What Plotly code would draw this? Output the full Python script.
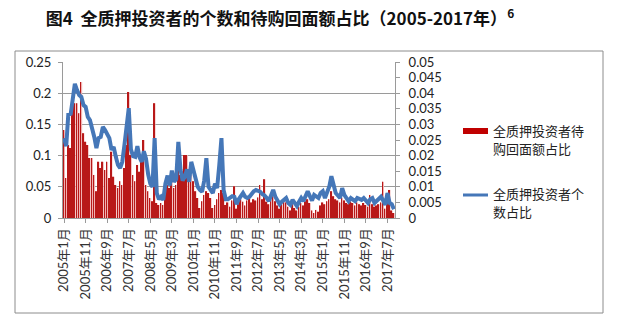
import plotly.graph_objects as go

# ---- data ----
start_year, start_month, n_months = 2005, 1, 154
months = []
y, m = start_year, start_month
for _ in range(n_months):
    months.append(f"{y}年{m}月")
    m += 1
    if m > 12:
        m = 1
        y += 1

bar_name = "全质押投资者待购回面额占比"
line_name = "全质押投资者个数占比"

# 待购回面额占比 (left axis)
bar_values = [
    0.141, 0.064, 0.117, 0.112, 0.173, 0.184, 0.184, 0.168, 0.218, 0.136,
    0.122, 0.117, 0.096, 0.096, 0.069, 0.043, 0.090, 0.080, 0.090, 0.077,
    0.090, 0.064, 0.106, 0.066, 0.053, 0.048, 0.059, 0.053, 0.080, 0.117,
    0.202, 0.101, 0.069, 0.059, 0.085, 0.074, 0.090, 0.125, 0.053, 0.043,
    0.032, 0.027, 0.184, 0.024, 0.021, 0.024, 0.021, 0.048, 0.053, 0.048,
    0.059, 0.048, 0.053, 0.090, 0.069, 0.064, 0.101, 0.101, 0.064, 0.069,
    0.059, 0.043, 0.032, 0.016, 0.027, 0.037, 0.043, 0.040, 0.032, 0.016,
    0.021, 0.030, 0.040, 0.045, 0.040, 0.021, 0.025, 0.018, 0.028, 0.051,
    0.015, 0.022, 0.030, 0.026, 0.020, 0.028, 0.032, 0.025, 0.030, 0.028,
    0.033, 0.053, 0.030, 0.062, 0.026, 0.022, 0.030, 0.035, 0.027, 0.020,
    0.015, 0.022, 0.028, 0.025, 0.018, 0.012, 0.022, 0.016, 0.012, 0.018,
    0.024, 0.020, 0.027, 0.030, 0.024, 0.012, 0.008, 0.013, 0.010, 0.020,
    0.025, 0.022, 0.027, 0.030, 0.043, 0.035, 0.030, 0.028, 0.025, 0.032,
    0.028, 0.024, 0.022, 0.026, 0.024, 0.020, 0.025, 0.022, 0.020, 0.024,
    0.021, 0.018, 0.037, 0.022, 0.018, 0.020, 0.022, 0.025, 0.058, 0.015,
    0.030, 0.045, 0.012, 0.008,
]

# 个数占比 (right axis)
line_values = [
    0.0256, 0.0230, 0.0336, 0.0330, 0.0380, 0.0430, 0.0410, 0.0394, 0.0388, 0.0362,
    0.0356, 0.0324, 0.0314, 0.0292, 0.0260, 0.0224, 0.0256, 0.0260, 0.0292, 0.0282,
    0.0266, 0.0256, 0.0218, 0.0228, 0.0196, 0.0170, 0.0160, 0.0180, 0.0234, 0.0288,
    0.0352, 0.0220, 0.0198, 0.0196, 0.0230, 0.0194, 0.0180, 0.0214, 0.0190, 0.0140,
    0.0110, 0.0100, 0.0256, 0.0080, 0.0060, 0.0068, 0.0058, 0.0110, 0.0136, 0.0104,
    0.0152, 0.0116, 0.0124, 0.0244, 0.0156, 0.0120, 0.0132, 0.0156, 0.0116, 0.0180,
    0.0150, 0.0120, 0.0100, 0.0090, 0.0084, 0.0120, 0.0192, 0.0100, 0.0090, 0.0080,
    0.0110, 0.0096, 0.0170, 0.0256, 0.0090, 0.0060, 0.0060, 0.0066, 0.0070, 0.0068,
    0.0044, 0.0060, 0.0072, 0.0080, 0.0068, 0.0064, 0.0068, 0.0080, 0.0086, 0.0090,
    0.0088, 0.0084, 0.0076, 0.0072, 0.0064, 0.0054, 0.0072, 0.0090, 0.0068, 0.0054,
    0.0044, 0.0052, 0.0060, 0.0064, 0.0048, 0.0042, 0.0058, 0.0048, 0.0038, 0.0052,
    0.0064, 0.0054, 0.0070, 0.0086, 0.0070, 0.0056, 0.0074, 0.0068, 0.0064, 0.0080,
    0.0086, 0.0064, 0.0080, 0.0100, 0.0134, 0.0110, 0.0080, 0.0072, 0.0064, 0.0096,
    0.0074, 0.0064, 0.0054, 0.0064, 0.0060, 0.0054, 0.0064, 0.0060, 0.0058, 0.0064,
    0.0058, 0.0048, 0.0060, 0.0064, 0.0048, 0.0054, 0.0060, 0.0068, 0.0056, 0.0042,
    0.0080, 0.0048, 0.0044, 0.0028,
]

tick_step = 10
left_ticks = [0, 0.05, 0.1, 0.15, 0.2, 0.25]
left_ticktext = ["0", "0.05", "0.1", "0.15", "0.2", "0.25"]
right_ticks = [0, 0.005, 0.01, 0.015, 0.02, 0.025, 0.03, 0.035, 0.04, 0.045, 0.05]
right_ticktext = ["0", "0.005", "0.01", "0.015", "0.02", "0.025", "0.03", "0.035", "0.04", "0.045", "0.05"]

# ---- figure ----
W, H = 618, 325
L, R, T, B = 63, 223, 62, 107
PW, PH = W - L - R, H - T - B

def px(xp):
    return (xp - L) / PW

def py(yp):
    return (H - B - yp) / PH

x_idx = list(range(len(months)))
tickvals = x_idx[::tick_step]
ticktext = [months[i] for i in tickvals]

BAR_COLOR = "#C00000"
BAR_EDGE = "#B81818"
BAR_LIGHT = "#F0B2B2"
LINE_COLOR = "#4577B8"
GRID = "#9A9A9A"
num_font = "Lato, 'Noto Sans CJK SC', sans-serif"

fig = go.Figure()
# light fill of each bar
fig.add_trace(go.Bar(x=x_idx, y=bar_values, name=bar_name,
                     width=0.85, offset=-0.45,
                     marker=dict(color=BAR_LIGHT, line=dict(width=0)),
                     yaxis="y", showlegend=False, hoverinfo="skip"))
# dark edge of each bar
fig.add_trace(go.Bar(x=x_idx, y=bar_values, name=bar_name,
                     width=0.3, offset=-0.45,
                     marker=dict(color=BAR_EDGE, line=dict(width=0)),
                     yaxis="y", showlegend=False))
fig.add_trace(go.Scatter(x=x_idx, y=line_values, name=line_name, mode="lines",
                         line=dict(color=LINE_COLOR, width=4),
                         yaxis="y2", showlegend=False))

fig.update_layout(
    width=W, height=H,
    margin=dict(l=L, r=R, t=T, b=B),
    paper_bgcolor="white", plot_bgcolor="white",
    barmode="overlay",
    title=dict(text="图4  全质押投资者的个数和待购回面额占比（2005-2017年）<sup>6</sup>",
               x=280 / W, xref="container", xanchor="center",
               y=1 - 19 / H, yref="container", yanchor="middle",
               font=dict(family="'Noto Sans CJK SC', sans-serif", size=17, color="#111111", weight="bold")),
    xaxis=dict(range=[-0.5, len(months) - 0.5], tickvals=tickvals, ticktext=ticktext,
               tickangle=-90, ticks="outside", ticklen=4, tickcolor=GRID,
               showline=True, linecolor=GRID, linewidth=1, showgrid=False, zeroline=False,
               tickfont=dict(family=num_font, size=13, color="#333333")),
    yaxis=dict(range=[0, 0.25], tickvals=left_ticks, ticktext=left_ticktext,
               ticks="outside", ticklen=4, tickcolor=GRID,
               showline=True, linecolor=GRID, linewidth=1,
               showgrid=True, gridcolor=GRID, gridwidth=1, zeroline=False,
               ticklabelstandoff=4,
               tickfont=dict(family=num_font, size=13, color="#222222")),
    yaxis2=dict(range=[0, 0.05], tickvals=right_ticks, ticktext=right_ticktext,
                overlaying="y", side="right",
                ticks="outside", ticklen=4, tickcolor=GRID,
                showline=True, linecolor=GRID, linewidth=1,
                showgrid=False, zeroline=False, ticklabelstandoff=6,
                tickfont=dict(family=num_font, size=13, color="#222222")),
)

# outer chart border
fig.add_shape(type="rect", xref="paper", yref="paper",
              x0=px(15), x1=px(603), y0=py(313), y1=py(51),
              line=dict(color="#8C8C8C", width=1), layer="below")

# legend (manual, to match wrapped Excel legend)
fig.add_shape(type="rect", xref="paper", yref="paper",
              x0=px(463), x1=px(488), y0=py(134), y1=py(128),
              fillcolor=BAR_COLOR, line=dict(width=0))
fig.add_shape(type="line", xref="paper", yref="paper",
              x0=px(463), x1=px(488), y0=py(195), y1=py(195),
              line=dict(color=LINE_COLOR, width=3))
leg_font = dict(family="'Noto Sans CJK SC', sans-serif", size=13, color="#222222")
legend_lines = [("全质押投资者待", 130), ("购回面额占比", 148),
                ("全质押投资者个", 193), ("数占比", 211)]
for txt, yp in legend_lines:
    fig.add_annotation(xref="paper", yref="paper", x=px(491), y=py(yp),
                       text=txt, showarrow=False,
                       xanchor="left", yanchor="middle", align="left", font=leg_font)

fig.write_html("out.html")
